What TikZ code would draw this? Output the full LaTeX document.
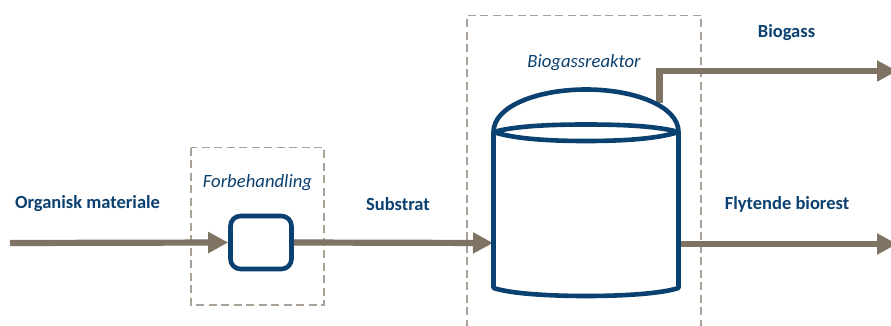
\documentclass[tikz,border=0pt]{standalone}
\usepackage{fontspec}
\setmainfont{Carlito}
\usetikzlibrary{arrows.meta}
\definecolor{flow}{HTML}{7F7364}
\definecolor{navy}{HTML}{0B4170}
\definecolor{dashc}{HTML}{ABA297}
\tikzset{
  x=1pt,y=-1pt,
  flowline/.style={draw=flow,line width=6.2pt,-{Triangle[length=20pt,width=20pt]}},
  dashbox/.style={draw=dashc,line width=1.5pt,dash pattern=on 8pt off 4.5pt},
  vessel/.style={draw=navy,line width=4.6pt,line join=round},
  strong/.style={text=navy,font=\fontsize{18.5}{22}\selectfont\bfseries,inner sep=0pt,anchor=center},
  slant/.style={text=navy,font=\fontsize{18.7}{22}\selectfont\itshape,inner sep=0pt,anchor=center},
  procbox/.style={draw=navy,line width=4.6pt,fill=white,rounded corners=10pt,minimum width=61pt,minimum height=53pt,inner sep=0pt},
}
\begin{document}
\begin{tikzpicture}
\useasboundingbox (0,0) rectangle (891,326);
\clip (0,0) rectangle (891,326);
\fill[white] (0,0) rectangle (891,326);
% dashed enclosures
\draw[dashbox] (191,147.5) rectangle (324,305);
\draw[dashbox] (467,340) -- (467,15.5) -- (701,15.5) -- (701,340);
% named anchors
\coordinate (in) at (10,243);
\coordinate (tankL) at (493,243);
\coordinate (tankR) at (679,244);
\coordinate (gasS) at (659.5,103);
\coordinate (gasC) at (659.5,71);
\coordinate (gasE) at (897,71);
\coordinate (liqE) at (897,244);
\node[procbox] (proc) at (261,242.5) {};
% flows
\draw[flowline] (in) -- (proc.west);
\draw[flowline] (proc.east) -- (tankL);
\draw[flowline] (tankR) -- (liqE);
\draw[flowline] (gasS) -- (gasC) -- (gasE);
% tank
\draw[vessel,fill=white] (493.5,132)
  .. controls (493.5,106) and (538,89.5) .. (586,89.5)
  .. controls (634,89.5) and (678.5,106) .. (678.5,132)
  -- (678.5,288)
  .. controls (660,294) and (620,296) .. (586,296)
  .. controls (552,296) and (512,294) .. (493.5,288) -- cycle;
\draw[vessel] (493.5,132) .. controls (515,126) and (550,124.5) .. (586,124.5)
  .. controls (622,124.5) and (657,126) .. (678.5,132)
  .. controls (657,139) and (622,141) .. (586,141)
  .. controls (550,141) and (515,139) .. (493.5,132) -- cycle;
% labels
\node[strong] (l1) at (87.5,204) {Organisk materiale};
\node[slant] (l2) at (257.5,183) {Forbehandling};
\node[strong] (l3) at (398,204) {Substrat};
\node[slant] (l4) at (584,62.5) {Biogassreaktor};
\node[strong] (l5) at (786.5,32.5) {Biogass};
\node[strong] (l6) at (787,204) {Flytende biorest};
\end{tikzpicture}
\end{document}
